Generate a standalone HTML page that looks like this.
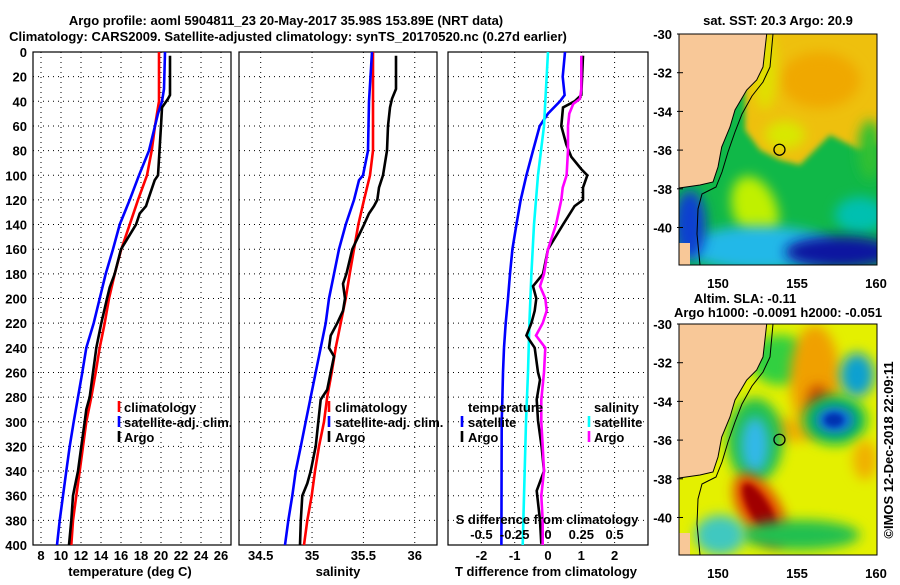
<!DOCTYPE html>
<html><head><meta charset="utf-8"><style>
body{margin:0;background:#fff;}
svg text{font-family:"Liberation Sans",sans-serif;font-weight:bold;font-size:13px;fill:#000;}
</style></head><body>
<svg id="chart" xmlns="http://www.w3.org/2000/svg" width="900" height="580" viewBox="0 0 900 580">
<defs>
<filter id="blur6" x="-50%" y="-50%" width="200%" height="200%"><feGaussianBlur stdDeviation="6"/></filter>
<filter id="blur3" x="-50%" y="-50%" width="200%" height="200%"><feGaussianBlur stdDeviation="3"/></filter>
<clipPath id="clipTop"><rect x="679" y="34" width="198" height="231"/></clipPath>
<clipPath id="clipBot"><rect x="679" y="324" width="198" height="231"/></clipPath>
</defs>
<text x="286" y="25" text-anchor="middle" font-size="14.5">Argo profile: aoml 5904811_23 20-May-2017 35.98S 153.89E (NRT data)</text>
<text x="288" y="41" text-anchor="middle" font-size="14.5">Climatology: CARS2009. Satellite-adjusted climatology: synTS_20170520.nc (0.27d earlier)</text>
<g id="panels"></g>
<g id="maps"></g>
</svg>
<script>
// ---- data ----
const depthTicks = [0,20,40,60,80,100,120,140,160,180,200,220,240,260,280,300,320,340,360,380,400];
const tempTicks = [8,10,12,14,16,18,20,22,24,26];
const salTicks = [34.5,35,35.5,36];
const salTickLabels = ["34.5","35","35.5","36"];
const tdiffTicks = [-2,-1,0,1,2];
const sdiffTicks = [-0.5,-0.25,0,0.25,0.5];
const sdiffTickLabels = ["-0.5","-0.25","0","0.25","0.5"];

const tempClimDepth = [0,40,60,80,100,120,140,160,180,200,220,240,260,280,300,320,340,360,380,400];
const tempClim = [19.8,19.8,19.4,19.07,18.6,17.7,16.87,16.03,15.37,14.8,14.37,13.87,13.47,13.03,12.53,12.2,11.87,11.53,11.2,11.03];
const tempSatDepth = [0,30,40,50,60,80,100,120,140,160,180,200,220,240,260,280,300,320,340,360,380,400];
const tempSat = [20.4,20.3,20.1,19.7,19.4,18.8,17.8,16.87,15.87,15.2,14.47,13.87,13.27,12.53,12.13,11.7,11.27,10.87,10.53,10.2,9.87,9.6];
const tempArgoDepth = [3,35,38,45,60,80,100,104,120,125,131,140,160,180,191,200,220,240,250,260,280,290,300,320,340,353,360,380,400];
const tempArgo = [20.9,20.9,20.7,20.1,20.0,19.85,19.7,19.37,18.7,18.5,17.87,17.5,16.0,15.37,14.87,14.6,14.03,13.53,13.37,13.2,12.87,12.53,12.37,12.03,11.7,11.37,11.2,11.03,10.8];

const salClimDepth = [0,80,100,120,140,160,180,200,220,240,260,280,300,320,340,360,380,400];
const salClim = [35.593,35.593,35.564,35.506,35.45,35.408,35.367,35.328,35.279,35.23,35.191,35.148,35.116,35.068,35.029,34.997,34.954,34.922];
const salSatDepth = [0,40,80,100,104,120,140,160,180,200,220,240,260,280,300,320,340,360,380,400];
const salSat = [35.584,35.555,35.545,35.496,35.457,35.408,35.328,35.262,35.214,35.165,35.133,35.084,35.036,34.987,34.938,34.89,34.841,34.808,34.769,34.737];
const salArgoDepth = [3,30,38,45,60,80,90,100,110,120,125,131,140,152,160,180,188,200,210,220,230,240,247,260,274,282,300,320,340,350,360,380,400];
const salArgo = [35.817,35.817,35.778,35.759,35.74,35.73,35.71,35.691,35.652,35.635,35.603,35.555,35.506,35.438,35.392,35.334,35.301,35.321,35.301,35.246,35.182,35.165,35.214,35.182,35.148,35.084,35.061,35.036,34.987,34.954,34.905,34.89,34.883];

const tdSatDepth = [0,20,35,40,50,60,80,100,120,140,160,180,200,220,240,260,280,300,400];
const tdSat = [0.51,0.44,0.5,0.36,0,-0.25,-0.45,-0.65,-0.82,-0.95,-1.07,-1.14,-1.2,-1.27,-1.32,-1.35,-1.37,-1.39,-1.4];
const tdArgoDepth = [3,35,40,45,60,75,85,95,100,110,120,125,140,160,180,190,200,210,220,230,240,260,266,282,299,321,340,356,380,399];
const tdArgo = [1.05,1.0,0.8,0.45,0.4,0.55,0.7,1.0,1.18,1.05,1.05,0.8,0.45,0,-0.15,-0.45,-0.35,-0.4,-0.5,-0.65,-0.4,-0.3,-0.24,-0.34,-0.3,-0.19,-0.12,-0.34,-0.24,-0.2];
const sdSatDepth = [0,40,60,100,140,180,220,260,300,400];
const sdSat = [0,-0.02,-0.03,-0.075,-0.105,-0.125,-0.14,-0.15,-0.165,-0.19];
const sdArgoDepth = [3,30,38,42,50,60,80,100,110,120,140,160,180,190,200,210,220,230,240,260,282,300,320,340,360,380,400];
const sdArgo = [0.25,0.25,0.24,0.19,0.16,0.15,0.15,0.14,0.11,0.1,0.06,0,-0.03,-0.06,-0.02,-0.01,-0.04,-0.09,-0.02,-0.03,-0.05,-0.05,-0.04,-0.03,-0.05,-0.04,-0.04];

const mapLatTicks = [-30,-32,-34,-36,-38,-40];
const mapLonTicks = [150,155,160];
const argoLon = 153.89, argoLat = -35.98;

// ---- drawing ----
const NS='http://www.w3.org/2000/svg';
function mk(tag, attrs, parent){const e=document.createElementNS(NS,tag);for(const k in attrs)e.setAttribute(k,attrs[k]);parent.appendChild(e);return e;}
const panels=document.getElementById('panels');
const Y0=52, Y1=545;
const yD = d => Y0 + d*(Y1-Y0)/400;

function panel(name, x0, x1, xScale, ticks, labels, showY){
  const g=mk('g',{},panels);
  
  
  depthTicks.forEach(d=>{ if(d>0&&d<400){const l=mk('line',{x1:x0,x2:x1,y1:yD(d),y2:yD(d),stroke:'#000','stroke-width':1,'stroke-dasharray':'1,4'},g);
    
    }
    if(showY){const t=mk('text',{x:27,y:yD(d)+5,'text-anchor':'end'},g);t.textContent=d;
      
      }
  });
  ticks.forEach((v,i)=>{const x=xScale(v);
    if(x>x0+1&&x<x1-1){const l=mk('line',{x1:x,x2:x,y1:Y0,y2:Y1,stroke:'#000','stroke-width':1,'stroke-dasharray':'1,4'},g);
    
    }
    const t=mk('text',{x:x,y:560,'text-anchor':'middle'},g);t.textContent=labels[i];
    
    
  });
  const r=mk('rect',{x:x0,y:Y0,width:x1-x0,height:Y1-Y0,fill:'none',stroke:'#000','stroke-width':1.2},g);
  
  
  return g;
}
function series(g, name, depths, vals, xScale, color){
  const pts=depths.map((d,i)=>xScale(vals[i]).toFixed(1)+','+yD(d).toFixed(1)).join(' ');
  const p=mk('polyline',{points:pts,fill:'none',stroke:color,'stroke-width':2.6,'stroke-linejoin':'miter'},g);
  
  
}
function txt(g,name,x,y,s,anchor){const t=mk('text',{x:x,y:y,'text-anchor':anchor||'start'},g);t.textContent=s;
  
  return t;}
function legendMark(g,name,x,y,color){const l=mk('line',{x1:x,x2:x,y1:y-11,y2:y,stroke:color,'stroke-width':2.6},g);
  
  }

// Panel 1: temperature
const xT = v => 41 + (v-8)*10;
const p1=panel('temperature-panel',33,231,xT,tempTicks,tempTicks.map(String),true);
series(p1,'temp-climatology-line',tempClimDepth,tempClim,xT,'#ff0000');
series(p1,'temp-satellite-line',tempSatDepth,tempSat,xT,'#0000ff');
series(p1,'temp-argo-line',tempArgoDepth,tempArgo,xT,'#000000');
legendMark(p1,'legend-climatology-mark',119,412,'#ff0000');txt(p1,'legend-climatology',124,412,'climatology');
legendMark(p1,'legend-satellite-mark',119,427,'#0000ff');txt(p1,'legend-satellite',124,427,'satellite-adj. clim.');
legendMark(p1,'legend-argo-mark',119,442,'#000');txt(p1,'legend-argo',124,442,'Argo');
txt(p1,'x-axis-title-temperature',130,576,'temperature (deg C)','middle');

// Panel 2: salinity
const xS = v => 260.7 + (v-34.5)*102.7;
const p2=panel('salinity-panel',239,437,xS,salTicks,salTickLabels,false);
series(p2,'sal-climatology-line',salClimDepth,salClim,xS,'#ff0000');
series(p2,'sal-satellite-line',salSatDepth,salSat,xS,'#0000ff');
series(p2,'sal-argo-line',salArgoDepth,salArgo,xS,'#000000');
legendMark(p2,'legend-climatology-mark',329,412,'#ff0000');txt(p2,'legend-climatology',335,412,'climatology');
legendMark(p2,'legend-satellite-mark',329,427,'#0000ff');txt(p2,'legend-satellite',335,427,'satellite-adj. clim.');
legendMark(p2,'legend-argo-mark',329,442,'#000');txt(p2,'legend-argo',335,442,'Argo');
txt(p2,'x-axis-title-salinity',338,576,'salinity','middle');

// Panel 3: differences
const xTD = v => 548 + v*33.3;
const xSD = v => 548 + v*133.2;
const p3=panel('difference-panel',448,648,xTD,tdiffTicks,tdiffTicks.map(String),false);
series(p3,'tdiff-satellite-line',tdSatDepth,tdSat,xTD,'#0000ff');
series(p3,'sdiff-satellite-line',sdSatDepth,sdSat,xSD,'#00ffff');
series(p3,'tdiff-argo-line',tdArgoDepth,tdArgo,xTD,'#000000');
series(p3,'sdiff-argo-line',sdArgoDepth,sdArgo,xSD,'#ff00ff');
txt(p3,'legend-temperature-heading',468,412,'temperature');
legendMark(p3,'legend-t-satellite-mark',462,427,'#0000ff');txt(p3,'legend-t-satellite',468,427,'satellite');
legendMark(p3,'legend-t-argo-mark',462,442,'#000');txt(p3,'legend-t-argo',468,442,'Argo');
txt(p3,'legend-salinity-heading',594,412,'salinity');
legendMark(p3,'legend-s-satellite-mark',589,427,'#00ffff');txt(p3,'legend-s-satellite',594,427,'satellite');
legendMark(p3,'legend-s-argo-mark',589,442,'#ff00ff');txt(p3,'legend-s-argo',594,442,'Argo');
txt(p3,'s-axis-title',547,524,'S difference from climatology','middle');
sdiffTicks.forEach((v,i)=>{txt(p3,'s-tick-label',xSD(v),539,sdiffTickLabels[i],'middle');});
txt(p3,'x-axis-title-tdiff',546,576,'T difference from climatology','middle');

// ---- maps ----
const maps=document.getElementById('maps');
const mx = lon => 718 + (lon-150)*15.8;
function mapPanel(name, oy, clip, fills){
  const g=mk('g',{},maps);
  
  
  const my = lat => oy + (-30-lat)*19.35;
  const c=mk('g',{'clip-path':'url(#'+clip+')'},g);
  fills(c, my);
  const coast=[[766.7,0],[763,33],[756.7,46],[746.7,56],[735,76],[730,93],[721.7,113],[718,133],[713,148],[700,151],[679,154]];
  const landPts=[[679,0]].concat(coast).map(p=>p[0]+','+(p[1]+oy)).join(' ');
  const land=mk('polygon',{points:landPts,fill:'#f8c898',stroke:'#000','stroke-width':1},c);
  
  
  const tas=mk('polygon',{points:`679,${oy+209} 690,${oy+209} 690,${oy+231} 679,${oy+231}`,fill:'#f8c898'},c);
  
  
  const iso=[[773,0],[770,33],[763,48],[752,62],[742,80],[735,98],[728,118],[722,138],[716,153],[702,160],[698,175],[697,200],[700,231]].map(p=>p[0]+','+(p[1]+oy)).join(' ');
  const il=mk('polyline',{points:iso,fill:'none',stroke:'#000','stroke-width':1},c);
  
  
  const fr=mk('rect',{x:679,y:oy,width:198,height:231,fill:'none',stroke:'#000','stroke-width':1},g);
  
  
  mapLatTicks.forEach(v=>{txt(g,'map-lat-label',672,my(v)+5,String(v),'end');
    const t=mk('line',{x1:677,x2:683,y1:my(v),y2:my(v),stroke:'#000'},g);
    
    });
  mapLonTicks.forEach(v=>{txt(g,'map-lon-label',mx(v),oy+254,String(v),'middle');});
  const m=mk('circle',{cx:mx(argoLon),cy:my(argoLat),r:5.5,fill:'none',stroke:'#000','stroke-width':1.3},g);
  
  
}
function blob(c,name,cx,cy,rx,ry,color,rot,f){const e=mk('ellipse',{cx:cx,cy:cy,rx:rx,ry:ry,fill:color,filter:'url(#'+(f||'blur6')+')',transform:`rotate(${rot||0} ${cx} ${cy})`},c);
  
  }

mapPanel('sst-map',34,'clipTop',(c,my)=>{
  mk('rect',{x:679,y:34,width:198,height:231,fill:'#10b848'},c);
  const warm=mk('polygon',{points:'760,20 890,20 890,140 860,150 830,135 800,165 780,160 760,150 745,130 745,60',fill:'#eec010',filter:'url(#blur3)'},c);
  
  
  blob(c,'sst-orange-patch',820,80,40,28,'#f0a800');
  blob(c,'sst-coastal-yellow',765,70,12,40,'#e0e000');
  blob(c,'sst-yellow-tongue',785,135,20,14,'#d8e800');
  blob(c,'sst-coastal-yellow-south',755,210,22,35,'#c0f000',-20);
  blob(c,'sst-green-east',870,150,12,30,'#30c030');
  blob(c,'sst-cyan-south',760,248,75,22,'#20b8e8');
  blob(c,'sst-teal-east',860,215,25,18,'#00c0b0');
  blob(c,'sst-navy-south',840,252,55,16,'#0818a0');
  blob(c,'sst-blue-southwest',690,225,16,35,'#1040d0');
});
mapPanel('sla-map',324,'clipBot',(c,my)=>{
  mk('rect',{x:679,y:324,width:198,height:231,fill:'#e4f000'},c);
  blob(c,'sla-green-band',780,360,30,25,'#30d040');
  blob(c,'sla-orange-north',815,380,25,55,'#f0a000');
  blob(c,'sla-red-north',818,400,10,15,'#c84000');
  blob(c,'sla-orange-mid',790,430,30,12,'#f0b000');
  blob(c,'sla-green-ring-east',835,420,32,25,'#10c050');
  blob(c,'sla-blue-eddy-east',835,420,20,14,'#1070e0');
  blob(c,'sla-deepblue-core',834,420,10,7,'#0030b0','0','blur3');
  blob(c,'sla-green-west',755,440,28,42,'#20c050');
  blob(c,'sla-cyan-eddy',755,445,14,28,'#30b8e8');
  blob(c,'sla-blue-northeast',857,375,17,22,'#10a0d0');
  blob(c,'sla-red-eddy',760,510,20,40,'#e04000',-30);
  blob(c,'sla-darkred-core',760,510,10,30,'#a00000',-30,'blur3');
  blob(c,'sla-green-south',800,535,60,15,'#20c050');
  blob(c,'sla-cyan-southwest',720,535,25,20,'#40c8c0');
  blob(c,'sla-orange-east',865,460,12,20,'#f0b000');
});
txt(maps,'sst-map-title',778,25,'sat. SST: 20.3 Argo: 20.9','middle');
txt(maps,'sla-map-title',745,303,'Altim. SLA: -0.11','middle');
txt(maps,'sla-map-subtitle',778,317,'Argo h1000: -0.0091 h2000: -0.051','middle');
const cr=txt(maps,'imos-credit',0,0,'©IMOS 12-Dec-2018 22:09:11','middle');
cr.setAttribute('transform','translate(893,450) rotate(-90)');
cr.setAttribute('font-weight','normal');
</script>
</body></html>
